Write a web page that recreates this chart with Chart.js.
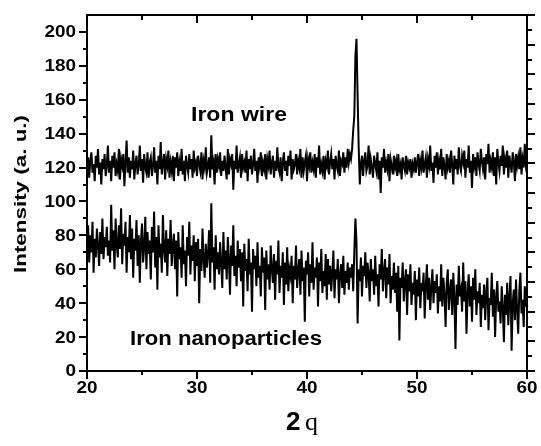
<!DOCTYPE html>
<html>
<head>
<meta charset="utf-8">
<script src="https://cdn.jsdelivr.net/npm/chart.js@4.4.1/dist/chart.umd.min.js"></script>
<style>
  html, body { margin: 0; padding: 0; background: #fff; }
  #wrap { width: 541px; height: 446px; }
</style>
</head>
<body>
<div id="wrap"><canvas id="xrd" width="541" height="446"></canvas></div>
<script>
// --- scan range (2 theta, degrees) ---
const angleStart = 20;
const angleStep = 0.1;

// --- tick labels ---
const xTickLabels = [20, 30, 40, 50, 60];
const yTickLabels = [0, 20, 40, 60, 80, 100, 120, 140, 160, 180, 200];

// --- intensity, one row = 2 degrees ---
const ironWire = [
  118,126,114,124,129,117,122,112,127,120,131,116,123,110,125,119,128,115,121,133,
  117,124,112,127,120,129,115,122,118,131,113,125,121,128,109,123,136,117,126,114,
  124,119,130,113,122,127,116,121,133,118,125,111,128,120,117,129,114,123,126,115,
  121,132,117,124,110,127,119,135,116,122,128,113,125,121,130,114,123,118,127,112,
  126,120,129,115,123,118,131,116,124,112,127,121,117,128,119,125,114,130,120,123,
  115,127,122,118,129,113,124,120,132,117,121,126,114,139,119,123,110,128,117,125,
  121,129,115,124,118,127,120,113,131,116,125,122,128,107,124,119,133,117,122,126,
  114,128,120,123,117,130,112,125,119,127,116,122,131,118,124,111,126,121,129,115,
  123,119,128,113,125,121,130,116,122,127,114,124,118,132,120,117,126,112,123,129,
  118,124,115,127,121,130,113,125,119,122,128,116,124,120,131,114,126,118,123,127,
  112,125,121,129,117,123,119,128,114,126,120,133,116,122,118,127,113,124,121,130,
  116,123,128,119,125,113,127,121,118,130,115,124,122,129,117,126,120,131,123,128,
  125,131,142,150,186,196,162,132,110,122,127,115,124,129,118,121,133,116,125,120,
  114,127,122,118,129,113,124,105,126,120,131,117,123,119,128,112,125,121,116,127,
  120,124,115,128,119,122,113,126,121,118,127,116,123,120,125,114,122,119,126,117,
  123,128,115,124,120,130,117,122,126,114,125,121,133,118,123,111,127,120,129,116,
  124,119,131,115,126,121,113,128,120,124,117,130,122,110,127,119,125,116,132,121,
  118,127,123,130,114,125,120,133,117,124,108,128,121,126,115,129,122,118,131,124,
  119,126,113,128,122,134,117,124,120,129,115,126,110,131,123,118,127,121,133,116,
  125,120,130,114,127,122,117,129,124,112,128,121,126,119,132,116,125,120,134,122,
  126
];

const ironNano = [
  72,86,64,80,70,88,58,78,67,84,74,62,82,69,90,66,79,73,85,68,
  77,64,98,71,83,60,90,75,67,86,72,96,63,81,74,88,58,79,70,92,
  66,84,55,78,71,89,62,80,52,76,87,64,73,91,60,82,69,77,54,85,
  70,94,61,79,48,86,67,75,58,92,72,64,83,56,78,69,89,62,74,81,
  60,77,44,82,66,73,55,86,63,71,50,79,68,88,57,74,65,80,53,76,
  62,78,40,72,59,84,66,55,75,61,69,83,52,99,64,73,48,80,60,70,
  57,76,63,49,82,60,71,54,79,66,45,74,62,86,56,68,50,77,61,72,
  53,70,38,75,59,66,47,78,57,64,35,72,60,68,50,76,55,62,44,73,
  58,67,36,71,54,63,48,74,60,52,69,42,65,57,77,46,62,55,70,39,
  64,51,73,47,60,56,68,40,62,54,74,49,59,66,45,71,53,61,29,65,
  57,70,44,63,52,76,48,61,55,67,38,64,53,72,46,59,50,69,42,66,
  51,62,47,58,71,43,60,54,66,40,57,63,49,68,45,59,52,64,48,61,
  55,63,47,70,90,76,28,60,53,67,44,62,56,70,49,64,58,41,66,53,
  60,45,68,50,57,38,63,54,72,47,59,66,43,61,51,69,40,56,48,64,
  46,58,35,62,18,55,49,64,41,53,60,33,57,47,63,39,52,45,59,30,
  54,44,61,37,52,47,58,31,50,63,42,55,36,49,60,40,53,46,57,34,
  50,41,63,38,55,45,26,52,60,36,47,54,33,58,43,13,51,39,62,44,
  48,35,64,41,53,22,46,57,38,50,29,55,42,60,33,47,40,52,26,45,
  37,51,30,46,55,24,43,39,58,32,48,20,44,53,35,41,28,50,38,17,
  45,33,52,27,43,56,12,40,48,30,54,36,22,47,58,34,42,26,50,38,
  44
];

const toPoints = arr => arr.map((v, i) => ({ x: +(angleStart + i * angleStep).toFixed(1), y: v }));

const SANS = '"Liberation Sans", Arial, sans-serif';
const SERIF = '"Liberation Serif", "Times New Roman", serif';

// text drawn wider than the font's own metrics, like the original
function wideText(ctx, text, x, y, targetW) {
  const w = ctx.measureText(text).width;
  ctx.save();
  ctx.translate(x, y);
  ctx.scale(targetW / w, 1);
  ctx.textAlign = 'left';
  ctx.fillText(text, 0, 0);
  ctx.restore();
}

const framePlugin = {
  id: 'frame',
  afterDraw(chart) {
    const { ctx, chartArea: a, scales } = chart;
    const sx = scales.x, sy = scales.y, sr = scales.y2;
    ctx.save();
    ctx.strokeStyle = '#000';
    ctx.fillStyle = '#000';
    ctx.lineWidth = 2;
    ctx.strokeRect(a.left, a.top, a.right - a.left, a.bottom - a.top);

    ctx.beginPath();
    // left: outward
    for (let v = 0; v <= 200; v += 10) {
      const p = Math.round(sy.getPixelForValue(v));
      const len = v % 20 === 0 ? 8 : 4;
      ctx.moveTo(a.left, p); ctx.lineTo(a.left - len, p);
    }
    // bottom: outward, top: inward
    for (let v = 20; v <= 60; v += 5) {
      const p = Math.round(sx.getPixelForValue(v));
      const major = v % 10 === 0;
      ctx.moveTo(p, a.bottom); ctx.lineTo(p, a.bottom + (major ? 8 : 4));
      ctx.moveTo(p, a.top); ctx.lineTo(p, a.top + (major ? 8 : 5));
    }
    // right: outward, own unlabeled scale
    for (let v = 0; v <= 12; v += 0.5) {
      const p = Math.round(sr.getPixelForValue(v));
      const len = v % 1 === 0 ? 8 : 5;
      ctx.moveTo(a.right, p); ctx.lineTo(a.right + len, p);
    }
    ctx.stroke();

    // tick labels
    ctx.font = 'bold 16px ' + SANS;
    ctx.textBaseline = 'middle';
    yTickLabels.forEach(v => {
      const p = sy.getPixelForValue(v);
      const t = String(v);
      const w = ctx.measureText(t).width * 1.18;
      wideText(ctx, t, 76 - w, p + 1, w);
    });
    xTickLabels.forEach(v => {
      const p = sx.getPixelForValue(v);
      const t = String(v);
      const w = ctx.measureText(t).width * 1.18;
      wideText(ctx, t, p - w / 2, 389, w);
    });

    // axis titles
    ctx.textBaseline = 'alphabetic';
    ctx.save();
    ctx.translate(26, 273);
    ctx.rotate(-Math.PI / 2);
    ctx.font = 'bold 16px ' + SANS;
    wideText(ctx, 'Intensity (a. u.)', 0, 0, 158);
    ctx.restore();

    ctx.font = 'bold 26px ' + SANS;
    ctx.textAlign = 'left';
    ctx.fillText('2', 286, 430);
    ctx.font = '26px ' + SERIF;
    ctx.fillText('q', 305, 430);

    // series names
    ctx.font = 'bold 20px ' + SANS;
    wideText(ctx, 'Iron wire', 191, 121, 96);
    wideText(ctx, 'Iron nanoparticles', 130, 345, 192);
    ctx.restore();
  }
};

new Chart(document.getElementById('xrd'), {
  type: 'line',
  data: {
    datasets: [
      { label: 'Iron wire', data: toPoints(ironWire), yAxisID: 'y' },
      { label: 'Iron nanoparticles', data: toPoints(ironNano), yAxisID: 'y' }
    ]
  },
  options: {
    responsive: false,
    animation: false,
    devicePixelRatio: 1,
    layout: { padding: { left: 87, right: 14, top: 15, bottom: 75 } },
    elements: {
      line: { borderColor: '#000', borderWidth: 2, tension: 0 },
      point: { radius: 0 }
    },
    plugins: { legend: { display: false }, tooltip: { enabled: false } },
    scales: {
      x: { type: 'linear', min: 20, max: 60, display: false },
      y: { min: 0, max: 210, display: false },
      y2: { min: 0, max: 12, display: false, position: 'right' }
    }
  },
  plugins: [framePlugin]
});
</script>
</body>
</html>
